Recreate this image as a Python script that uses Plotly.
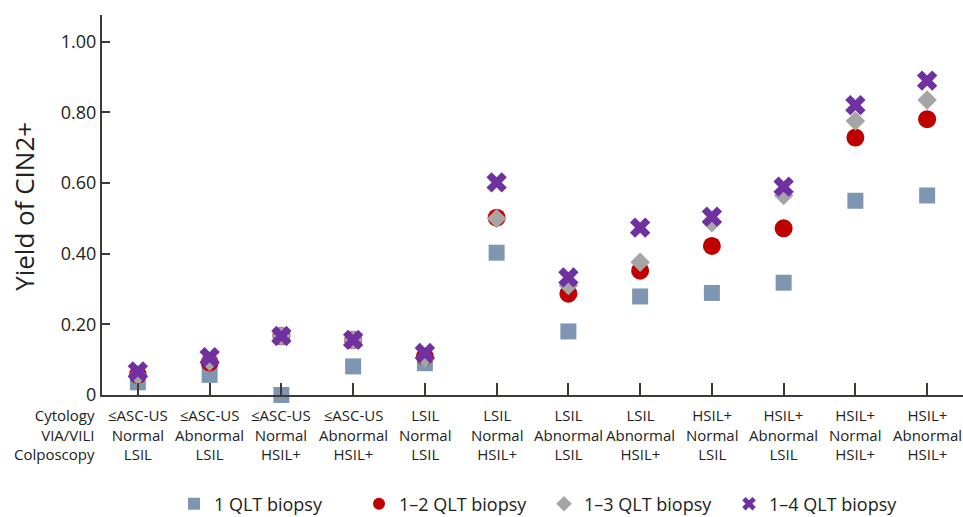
import plotly.graph_objects as go

# ---- data ----
cytology = ["≤ASC-US", "≤ASC-US", "≤ASC-US", "≤ASC-US", "LSIL", "LSIL", "LSIL", "LSIL",
            "HSIL+", "HSIL+", "HSIL+", "HSIL+"]
via_vili = ["Normal", "Abnormal", "Normal", "Abnormal", "Normal", "Normal", "Abnormal", "Abnormal",
            "Normal", "Abnormal", "Normal", "Abnormal"]
colposcopy = ["LSIL", "LSIL", "HSIL+", "HSIL+", "LSIL", "HSIL+", "LSIL", "HSIL+",
              "LSIL", "LSIL", "HSIL+", "HSIL+"]
row_headers = ["Cytology", "VIA/VILI", "Colposcopy"]

qlt1 = [0.036, 0.057, 0.0, 0.081, 0.090, 0.403, 0.180, 0.279, 0.289, 0.318, 0.550, 0.565]
qlt12 = [0.057, 0.092, 0.167, 0.156, 0.109, 0.502, 0.287, 0.352, 0.422, 0.472, 0.729, 0.781]
qlt13 = [0.055, 0.095, 0.167, 0.156, 0.105, 0.500, 0.310, 0.376, 0.488, 0.565, 0.776, 0.835]
qlt14 = [0.067, 0.107, 0.167, 0.156, 0.119, 0.602, 0.333, 0.474, 0.505, 0.590, 0.821, 0.890]

series_names = ["1 QLT biopsy", "1\u20132 QLT biopsy", "1\u20133 QLT biopsy", "1\u20134 QLT biopsy"]
ytick_vals = [0, 0.2, 0.4, 0.6, 0.8, 1.0]
ytick_text = ["0", "0.20", "0.40", "0.60", "0.80", "1.00"]

FONT = "Open Sans"
AXIS = "#3d3935"
TXT = "#222222"

x = list(range(len(cytology)))

fig = go.Figure()
styles = [
    dict(symbol="square", size=16, color="#7f96b2"),
    dict(symbol="circle", size=18, color="#c00000"),
    dict(symbol="diamond", size=15, color="#a5a5a5"),
    dict(symbol="x", size=18, color="#7030a0"),
]
for name, ys, st in zip(series_names, [qlt1, qlt12, qlt13, qlt14], styles):
    fig.add_trace(go.Scatter(
        x=x, y=ys, mode="markers", name=name, cliponaxis=False,
        marker=dict(symbol=st["symbol"], size=st["size"], color=st["color"],
                    line=dict(width=0)),
    ))

W, H = 963, 517
L, T = 102, 15
Y0 = 395.3                # pixel of y=0
B = H - Y0
plot_h = Y0 - T
plot_w = W - L


def py(pix):
    """pixel (from top) -> paper y"""
    return (Y0 - pix) / plot_h


def px(pix):
    return (pix - L) / plot_w


fig.update_layout(
    width=W, height=H,
    margin=dict(l=L, r=0, t=T, b=B, autoexpand=False),
    plot_bgcolor="white", paper_bgcolor="white",
    font=dict(family=FONT, color=TXT),
    showlegend=True,
    legend=dict(
        orientation="h", xref="container", yref="container",
        x=174 / W, xanchor="left", y=13 / H, yanchor="middle",
        font=dict(size=18, color=TXT),
        entrywidth=140, entrywidthmode="pixels",
        itemwidth=30, itemsizing="constant", bgcolor="rgba(0,0,0,0)",
    ),
    xaxis=dict(
        range=[-0.5, 11.5], tickmode="array", tickvals=x, showticklabels=False,
        showgrid=False, zeroline=False, showline=True, linecolor=AXIS, linewidth=2,
        ticks="inside", ticklen=12, tickwidth=2, tickcolor=AXIS, fixedrange=True,
    ),
    yaxis=dict(
        range=[0, 1.076], tickmode="array", tickvals=ytick_vals, ticktext=ytick_text,
        showgrid=False, zeroline=False, showline=True, linecolor=AXIS, linewidth=2,
        ticks="inside", ticklen=8, tickwidth=2, tickcolor=AXIS,
        tickfont=dict(size=18, color=TXT), fixedrange=True,
    ),
)

# y-axis title
fig.add_annotation(
    text="Yield of CIN2+", xref="paper", yref="paper",
    x=px(24), y=py(207), xanchor="center", yanchor="middle",
    textangle=-90, showarrow=False, font=dict(size=26, color=TXT, family=FONT),
)

# category labels (three lines each) plus the row headers
LAB_TOP = 403
fig.add_annotation(
    text="<br>".join(row_headers), xref="paper", yref="paper", x=px(97), y=py(LAB_TOP),
    xanchor="right", yanchor="top", align="right", showarrow=False,
    font=dict(size=15, color=TXT, family=FONT),
)
for xi, c, v, p in zip(x, cytology, via_vili, colposcopy):
    fig.add_annotation(
        text=f"{c}<br>{v}<br>{p}", xref="x", yref="paper", x=xi, y=py(LAB_TOP),
        xanchor="center", yanchor="top", align="center", showarrow=False,
        font=dict(size=15, color=TXT, family=FONT),
    )

fig.write_html(
    "out.html",
    config={"displayModeBar": False},
    post_script="document.body.style.margin='0';document.body.style.overflow='hidden';",
)
